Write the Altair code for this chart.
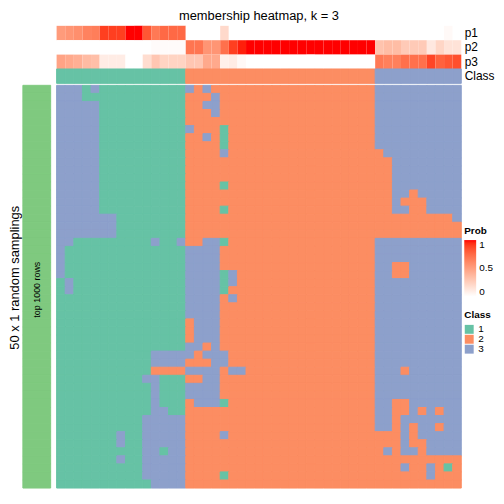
import altair as alt
import pandas as pd

FONT = "Liberation Sans"
TITLE = "membership heatmap, k = 3"
ROW_TITLE = "50 x 1 random samplings"
BAR_LABEL = "top 1000 rows"

# membership probabilities of the 47 samples (columns)
p1 = [0.52, 0.55, 0.58, 0.64, 0.66, 0.9, 0.9, 0.9, 1.0, 1.0, 0.82, 0.68, 0.75, 0.75, 0.75,
      0, 0, 0, 0, 0.2, 0, 0, 0, 0, 0, 0, 0, 0, 0, 0, 0, 0, 0, 0, 0, 0, 0,
      0, 0, 0, 0, 0, 0, 0, 0, 0.03, 0]
p2 = [0, 0, 0, 0, 0, 0, 0, 0, 0, 0, 0, 0.02, 0.02, 0.02, 0.02,
      0.7, 0.7, 0.55, 0.55, 0.72, 0.9, 0.97, 1, 1, 1, 1, 1, 1, 1, 1, 1, 1, 1, 1, 1, 1, 1,
      0.32, 0.35, 0.35, 0.28, 0.28, 0.28, 0.12, 0.22, 0.15, 0.15]
p3 = [0.48, 0.45, 0.42, 0.36, 0.34, 0.1, 0.1, 0.1, 0, 0, 0.18, 0.3, 0.23, 0.23, 0.23,
      0.3, 0.3, 0.45, 0.45, 0.08, 0.1, 0.03, 0, 0, 0, 0, 0, 0, 0, 0, 0, 0, 0, 0, 0, 0, 0,
      0.68, 0.65, 0.65, 0.72, 0.72, 0.72, 0.88, 0.78, 0.82, 0.85]
sample_class = "111111111111111 2222222222222222222222 3333333333"

# class of each sample (column) in each of the 50 random samplings (rows)
membership = [
    "333131111111111 3232222222222222222222 3333333333",
    "333111111111111 2223222222222222222222 3333333333",
    "333331111111111 2233222222222222222222 3333333333",
    "333331111111111 2223222222222222222222 3333333333",
    "333331111111111 2222222222222222222222 3333333333",
    "333331111111111 3222122222222222222222 3333333333",
    "333331111111111 2232122222222222222222 3333333333",
    "333331111111111 2222122222222222222222 3333333333",
    "333331111111111 2222322222222222222222 2333333333",
    "333331111111111 2222222222222222222222 2233333333",
    "333331111111111 2222222222222222222222 2233333333",
    "333331111111111 2222222222222222222222 2233333333",
    "333331111111111 2222122222222222222222 2233333333",
    "333331111111111 2222222222222222222222 2233233333",
    "333331111111111 2222222222222222222222 2232223333",
    "333331111111111 2222122222222222222222 2233223333",
    "333333311111111 2222222222222222222222 2222222223",
    "333333311111111 2222222222222222222222 2222222222",
    "333333311111111 2222222222222222222222 2222222222",
    "331111111113113 2233122222222222222222 3333333333",
    "311111111111111 3333222222222222222222 3333333333",
    "311111111111111 3333222222222222222222 3333333333",
    "311111111111111 3333222222222222222222 3322333333",
    "311111111111111 3333132222222222222222 3322333333",
    "131111111111111 3333132222222222222222 3333333333",
    "131111111111111 3333122222222222222222 3333333333",
    "111111111111111 3333232222222222222222 3333333333",
    "111111111111111 3333222222222222222222 3333333333",
    "111111111111111 3333222222222222222222 3333333333",
    "111111111111111 2333222222222222222222 3333333333",
    "111111111111111 2333222222222222222222 3333333333",
    "111111111111111 2333222222222222222222 3333333333",
    "111111111111111 3323222222222222222222 3333333333",
    "111111111113333 3233322222222222222222 3333333333",
    "111111111113333 2223322222222222222222 3333333333",
    "111111111112222 3333233222222222222222 3332333333",
    "111111111133111 2233222222222222222222 3333333333",
    "111111111113111 3333222222222222222222 3333333333",
    "111111111113111 3333222222222222222222 3333333333",
    "111111111113111 2333122222222222222222 3322333333",
    "111111111113311 2222222222222222222222 3322323233",
    "111111111133333 2222222222222222222222 3323333333",
    "111111111133333 2222222222222222222222 3323233233",
    "111111131133333 2222322222222222222222 2223233333",
    "111111131133333 2222222222222222222222 2223223333",
    "111111111133133 2222222222222222222222 2323323333",
    "111111131133333 2222222222222222222222 2222222222",
    "111111111133333 2222222222222222222222 2223223212",
    "111111111133333 2222122222222222222222 2222223222",
    "111111111113333 2222222222222222222222 2222222222",
]

ann_rows = ["p1", "p2", "p3"]
top_rows = ["p1", "p2", "p3", "Class"]
class_names = ["1", "2", "3"]
class_colors = ["#66C2A5", "#FC8D62", "#8DA0CB"]
bar_color = "#7FC97F"

# ---- tables ----
sample_class = sample_class.replace(" ", "")
membership = [r.replace(" ", "") for r in membership]
n_col = len(sample_class)
assert all(len(r) == n_col for r in membership)
assert len(p1) == len(p2) == len(p3) == n_col

ann_df = pd.DataFrame(
    [{"col": c, "row": name, "prob": vals[c]}
     for name, vals in zip(ann_rows, [p1, p2, p3]) for c in range(n_col)]
)
cls_df = pd.DataFrame([{"col": c, "row": "Class", "cls": sample_class[c]} for c in range(n_col)])
main_df = pd.DataFrame(
    [{"col": c, "sampling": r, "cls": membership[r][c]}
     for r in range(len(membership)) for c in range(n_col)]
)
rows_df = pd.DataFrame({"sampling": list(range(len(membership)))})

W, H = 408, 466
x_enc = alt.X("col:O", axis=None, scale=alt.Scale(paddingInner=0, paddingOuter=0))
top_scale = alt.Scale(domain=top_rows, range=[0, 58], paddingInner=0, paddingOuter=0)
main_scale = alt.Scale(domain=list(range(len(membership))), range=[60, H],
                       paddingInner=0, paddingOuter=0)
prob_scale = alt.Scale(domain=[0, 1], range=["#FFFFFF", "#FF0000"], interpolate="lab")
class_scale = alt.Scale(domain=class_names, range=class_colors)

ann = alt.Chart(ann_df).mark_rect().encode(
    x=x_enc,
    y=alt.Y("row:N", scale=top_scale,
            axis=alt.Axis(orient="right", title=None, ticks=False, domain=False,
                          labelPadding=3, labelFont=FONT, labelFontSize=12,
                          labelColor="black")),
    color=alt.Color("prob:Q", scale=prob_scale,
                    legend=alt.Legend(title="Prob", orient="none", legendX=411, legendY=202,
                                      type="gradient", direction="vertical",
                                      gradientLength=57, gradientThickness=12,
                                      values=[0, 0.5, 1], format="~g",
                                      gradientStrokeWidth=0, titleFont=FONT,
                                      titleFontSize=10, titleFontWeight="bold",
                                      titleColor="black", titlePadding=4,
                                      labelFont=FONT, labelFontSize=10,
                                      labelColor="black", labelOffset=3)),
)

cls = alt.Chart(cls_df).mark_rect(strokeWidth=1).encode(
    x=x_enc,
    y=alt.Y("row:N", scale=top_scale, axis=None),
    color=alt.Color("cls:N", scale=class_scale, legend=None),
    stroke=alt.Stroke("cls:N", scale=class_scale, legend=None),
)

main = alt.Chart(main_df).mark_rect(strokeWidth=1).encode(
    x=x_enc,
    y=alt.Y("sampling:O", scale=main_scale, axis=None),
    color=alt.Color("cls:N", scale=class_scale,
                    legend=alt.Legend(title="Class", orient="none", legendX=411, legendY=287,
                                      symbolType="square", symbolSize=81,
                                      symbolStrokeWidth=0, symbolOpacity=1, rowPadding=0,
                                      titleFont=FONT, titleFontSize=10,
                                      titleFontWeight="bold", titleColor="black",
                                      titlePadding=4, labelFont=FONT, labelFontSize=10,
                                      labelColor="black", labelOffset=4)),
    stroke=alt.Stroke("cls:N", scale=class_scale, legend=None),
)

bar = alt.Chart(rows_df).mark_rect(color=bar_color, stroke=bar_color, strokeWidth=1).encode(
    x=alt.value(-34), x2=alt.value(-6),
    y=alt.Y("sampling:O", scale=main_scale, axis=None),
)

bar_text = alt.Chart(pd.DataFrame({"t": [BAR_LABEL]})).mark_text(
    angle=270, font=FONT, fontSize=9, color="black", align="center", baseline="middle"
).encode(x=alt.value(-20), y=alt.value(266), text="t:N")

row_title = alt.Chart(pd.DataFrame({"t": [ROW_TITLE]})).mark_text(
    angle=270, font=FONT, fontSize=13, color="black", align="center", baseline="middle"
).encode(x=alt.value(-42), y=alt.value(254), text="t:N")

main_title = alt.Chart(pd.DataFrame({"t": [TITLE]})).mark_text(
    font=FONT, fontSize=13, color="black", align="center", baseline="alphabetic"
).encode(x=alt.value(W / 2), y=alt.value(-6), text="t:N")

chart = alt.layer(ann, cls, main, bar, bar_text, row_title, main_title).resolve_scale(
    y="independent", color="independent", stroke="independent"
).properties(
    width=W, height=H,
    autosize=alt.AutoSizeParams(type="none"),
    padding={"left": 49, "top": 16, "right": 35, "bottom": 0},
    background="white",
).configure_view(stroke=None)

chart.save("out.html", embed_options={"renderer": "svg", "actions": False})
